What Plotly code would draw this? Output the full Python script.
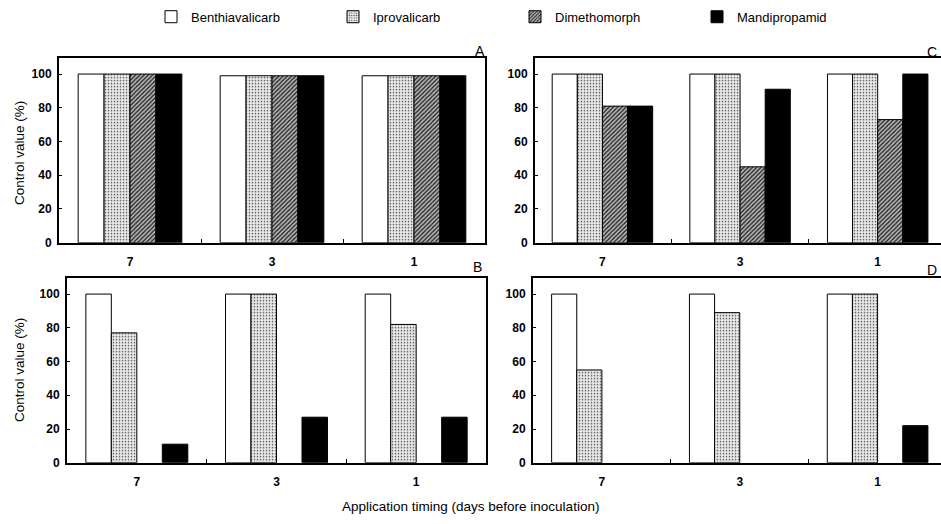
import plotly.graph_objects as go

timings = ["7", "3", "1"]
series = ["Benthiavalicarb", "Iprovalicarb", "Dimethomorph", "Mandipropamid"]

# Panel values (control value %), per series over timings 7, 3, 1
panel_A = {
    "Benthiavalicarb": [100, 99, 99],
    "Iprovalicarb": [100, 99, 99],
    "Dimethomorph": [100, 99, 99],
    "Mandipropamid": [100, 99, 99],
}
panel_B = {
    "Benthiavalicarb": [100, 100, 100],
    "Iprovalicarb": [77, 100, 82],
    "Dimethomorph": [0, 0, 0],
    "Mandipropamid": [11, 27, 27],
}
panel_C = {
    "Benthiavalicarb": [100, 100, 100],
    "Iprovalicarb": [100, 100, 100],
    "Dimethomorph": [81, 45, 73],
    "Mandipropamid": [81, 91, 100],
}
panel_D = {
    "Benthiavalicarb": [100, 100, 100],
    "Iprovalicarb": [55, 89, 100],
    "Dimethomorph": [0, 0, 0],
    "Mandipropamid": [0, 0, 22],
}
y_ticks = [0, 20, 40, 60, 80, 100]

W, H = 941, 524

def px_x(a, b):
    return [a / W, b / W]

def px_y(top, bottom):
    return [1 - bottom / H, 1 - top / H]

styles = {
    "Benthiavalicarb": dict(color="white", line=dict(color="black", width=1)),
    "Iprovalicarb": dict(color="white", line=dict(color="black", width=1),
                         pattern=dict(shape=".", fgcolor="#4a4a4a", bgcolor="#e8e8e8",
                                      size=3, solidity=0.22, fillmode="replace")),
    "Dimethomorph": dict(color="white", line=dict(color="black", width=1),
                         pattern=dict(shape="/", fgcolor="#1a1a1a", bgcolor="#b5b5b5",
                                      size=3, solidity=0.4, fillmode="replace")),
    "Mandipropamid": dict(color="black", line=dict(color="black", width=1)),
}

fig = go.Figure()
panels = [("x", "y", panel_A, True), ("x2", "y2", panel_C, False),
          ("x3", "y3", panel_B, False), ("x4", "y4", panel_D, False)]
for xa, ya, data, show in panels:
    for s in series:
        vals = [v if v > 0 else None for v in data[s]]
        fig.add_trace(go.Bar(
            x=timings, y=vals, name=s, xaxis=xa, yaxis=ya,
            marker=styles[s], legendgroup=s, showlegend=show,
        ))

tickfont = dict(family="Liberation Sans", size=12, color="black", weight="bold")

def xaxis(domain, rng, mirror):
    return dict(domain=domain, range=rng, type="category", showline=True,
                linecolor="black", linewidth=2, mirror=mirror, ticks="inside",
                tickson="boundaries", ticklen=4, tickcolor="black",
                tickfont=tickfont, ticklabelstandoff=7, showgrid=False,
                zeroline=False, fixedrange=True)

def yaxis(domain, mirror, anchor):
    return dict(domain=domain, range=[0, 109.4], showline=True, linecolor="black",
                linewidth=2, mirror=mirror, ticks="inside", ticklen=3,
                tickcolor="black", tickvals=y_ticks, tickfont=tickfont,
                ticklabelstandoff=3, showgrid=False, zeroline=False, anchor=anchor)

fig.update_layout(
    width=W, height=H,
    margin=dict(l=0, r=0, t=0, b=0),
    paper_bgcolor="white", plot_bgcolor="white",
    barmode="group", bargap=0.27, bargroupgap=0,
    xaxis=dict(xaxis(px_x(59, 485), [-0.5, 2.5], True), anchor="y"),
    yaxis=yaxis(px_y(59, 246), True, "x"),
    xaxis2=dict(xaxis(px_x(535, 941), [-0.49, 2.46], True), anchor="y2"),
    yaxis2=yaxis(px_y(59, 246), False, "x2"),
    xaxis3=dict(xaxis(px_x(67, 486), [-0.5, 2.5], True), anchor="y3"),
    yaxis3=yaxis(px_y(282, 469), True, "x3"),
    xaxis4=dict(xaxis(px_x(533, 941), [-0.5, 2.46], True), anchor="y4"),
    yaxis4=yaxis(px_y(282, 469), False, "x4"),
    legend=dict(orientation="h", x=151 / W, y=1 - 17 / H, xanchor="left",
                yanchor="middle", entrywidth=137, entrywidthmode="pixels",
                font=dict(family="Liberation Sans", size=13, color="black"),
                bgcolor="rgba(0,0,0,0)", traceorder="normal"),
    font=dict(family="Liberation Sans", color="black"),
)

ann = []
for label, x, y, anchor in [("A", 480, 52, "center"), ("B", 477, 271, "center"),
                            ("C", 939, 53, "right"), ("D", 939, 274, "right")]:
    ann.append(dict(text=label, x=x / W, y=1 - y / H, xref="paper", yref="paper",
                    showarrow=False, xanchor=anchor, yanchor="middle",
                    font=dict(family="Liberation Sans", size=14, color="black")))
for yc in [155, 375]:
    ann.append(dict(text="Control value (%)", x=20 / W, y=1 - yc / H, xref="paper",
                    yref="paper", showarrow=False, textangle=-90, xanchor="center",
                    yanchor="middle",
                    font=dict(family="Liberation Sans", size=13.5, color="black")))
ann.append(dict(text="Application timing (days before inoculation)", x=470 / W,
                y=1 - 513 / H, xref="paper", yref="paper", showarrow=False,
                xanchor="center", yanchor="middle",
                font=dict(family="Liberation Sans", size=13.5, color="black")))
fig.update_layout(annotations=ann)

fig.write_html(
    "out.html",
    config={"displayModeBar": False},
    post_script="document.body.style.margin='0';document.body.style.overflow='hidden';",
)
